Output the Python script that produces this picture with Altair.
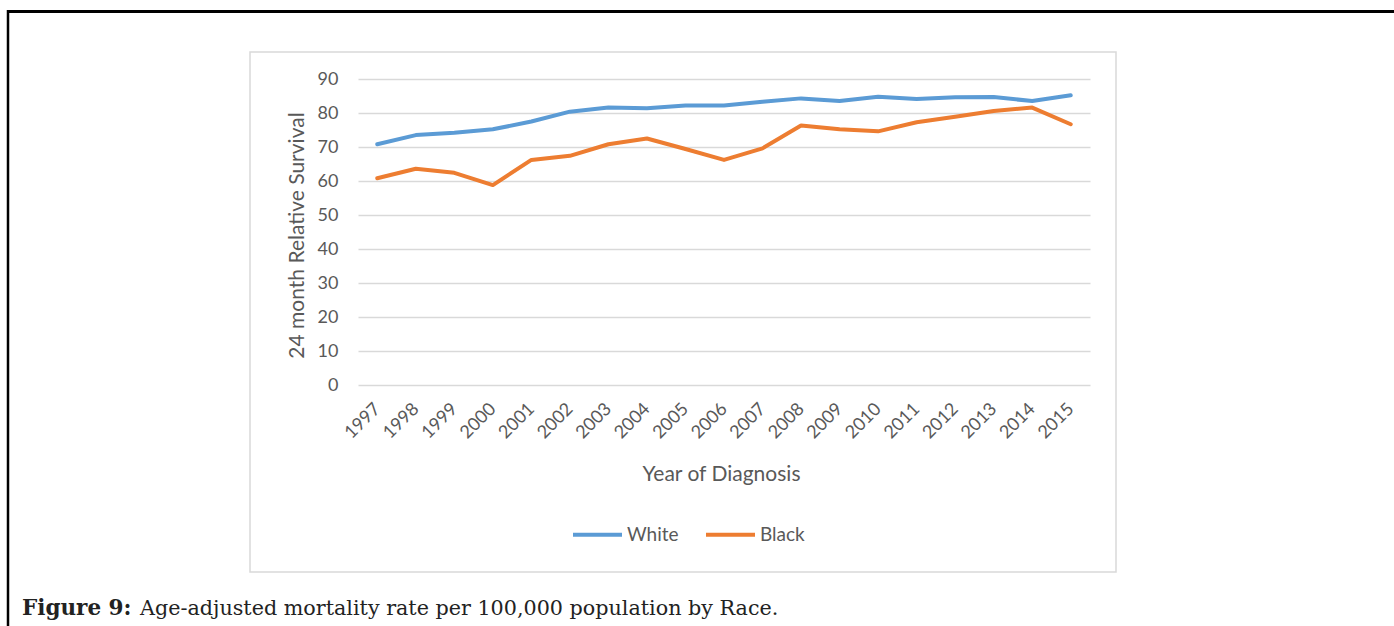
import altair as alt
import pandas as pd

# 24-month relative survival by year of diagnosis
years = [str(y) for y in range(1997, 2016)]
white = [70.8, 73.5, 74.2, 75.2, 77.5, 80.4, 81.6, 81.4, 82.2, 82.2,
         83.3, 84.3, 83.5, 84.8, 84.1, 84.6, 84.7, 83.5, 85.2]
black = [60.8, 63.6, 62.4, 58.8, 66.2, 67.4, 70.8, 72.5, 69.4, 66.2,
         69.6, 76.3, 75.2, 74.6, 77.3, 78.9, 80.6, 81.6, 76.7]
races = ["White", "Black"]
colors = ["#5B9BD5", "#ED7D31"]
y_ticks = [0, 10, 20, 30, 40, 50, 60, 70, 80, 90]

caption_bold = "Figure 9:"
caption_text = "Age-adjusted mortality rate per 100,000 population by Race."

rows = []
for race, vals in zip(races, [white, black]):
    for yr, v in zip(years, vals):
        rows.append({"year": yr, "race": race, "value": v})
df = pd.DataFrame(rows)

W, H = 732, 306
GRAY = "#595959"
FONT = "Lato"
one = alt.Data(values=[{}])

# outer page frame (top and left rules)
frame_top = alt.Chart(one).mark_rule(color="black", strokeWidth=3).encode(
    x=alt.value(-351), x2=alt.value(1040), y=alt.value(-67.5))
frame_left = alt.Chart(one).mark_rule(color="black", strokeWidth=2.5).encode(
    x=alt.value(-350), y=alt.value(-69), y2=alt.value(560))

# chart box outline
box = alt.Chart(one).mark_rect(fillOpacity=0, stroke="#d9d9d9", strokeWidth=1.5).encode(
    x=alt.value(-108), x2=alt.value(758), y=alt.value(-27), y2=alt.value(493))

lines = alt.Chart(df).mark_line(strokeWidth=4, strokeCap="round", strokeJoin="round").encode(
    x=alt.X("year:O", sort=years,
            scale=alt.Scale(padding=0.5),
            axis=alt.Axis(title="Year of Diagnosis", labelAngle=-45, labelAlign="right",
                          labelBaseline="middle", labelPadding=21, ticks=False, domain=False,
                          grid=False, labelFontSize=18, labelColor=GRAY, labelFont=FONT,
                          titleFont=FONT, titleFontSize=21, titleFontWeight="normal",
                          titleColor=GRAY, titleX=363, titleY=95, titleBaseline="alphabetic")),
    y=alt.Y("value:Q",
            scale=alt.Scale(domain=[0, 90], nice=False),
            axis=alt.Axis(title="24 month Relative Survival", values=y_ticks, ticks=False,
                          domain=False, gridColor="#d9d9d9", gridWidth=1.5, labelPadding=20,
                          labelFontSize=18, labelColor=GRAY, labelFont=FONT,
                          titleFont=FONT, titleFontSize=21, titleFontWeight="normal",
                          titleColor=GRAY, titleX=-55, titleY=156, titleAngle=-90,
                          titleBaseline="alphabetic", titleAlign="center")),
    color=alt.Color("race:N", sort=races,
                    scale=alt.Scale(domain=races, range=colors),
                    legend=alt.Legend(title=None, orient="none", legendX=213, legendY=429,
                                      direction="horizontal", symbolType="stroke",
                                      symbolSize=2401, symbolStrokeWidth=4,
                                      labelFontSize=19, labelColor=GRAY, labelFont=FONT,
                                      labelOffset=3, columnPadding=19)),
)

cap_bold = alt.Chart(one).mark_text(
    font="DejaVu Serif", fontSize=21.5, fontWeight="bold", align="left",
    baseline="alphabetic", color="#222222").encode(
    x=alt.value(-336), y=alt.value(536), text=alt.value(caption_bold))
cap_rest = alt.Chart(one).mark_text(
    font="DejaVu Serif", fontSize=20.7, align="left",
    baseline="alphabetic", color="#222222").encode(
    x=alt.value(-218), y=alt.value(536), text=alt.value(caption_text))

chart = alt.layer(frame_top, frame_left, box, lines, cap_bold, cap_rest).properties(
    width=W, height=H,
    autosize=alt.AutoSizeParams(type="none"),
    padding={"left": 358, "top": 79, "right": 304, "bottom": 241},
    background="white",
).configure_view(stroke=None)

chart.save("out.html", embed_options={"renderer": "svg", "actions": False})
